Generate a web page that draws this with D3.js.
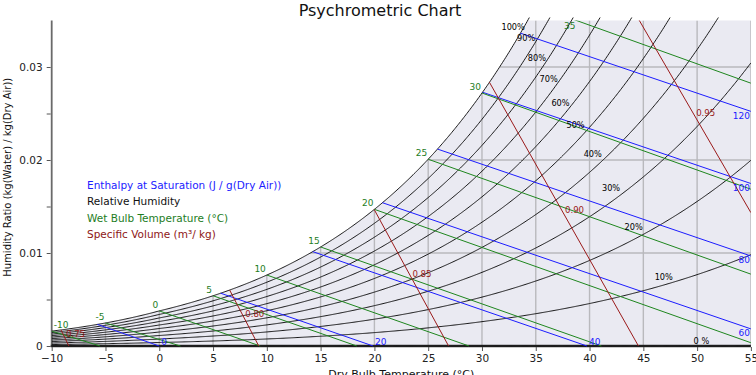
<!DOCTYPE html>
<html><head><meta charset="utf-8">
<script src="https://cdn.jsdelivr.net/npm/d3@7"></script>
<style>
body{margin:0;background:#fff;}
svg{display:block;font-family:"DejaVu Sans",sans-serif;}
</style></head><body>
<svg id="chart" width="756" height="375"></svg>
<script>
// ---------- data ----------
const xTicks = [-10,-5,0,5,10,15,20,25,30,35,40,45,50,55];
const yTicks = [0,0.005,0.01,0.015,0.02,0.025,0.03];
const yTickLabels = ["0","","0.01","","0.02","","0.03"];
const xGrid = [-5,0,5,10,15,20,25,30,35,40,45,50,55];
const yGrid = [0.01,0.02,0.03];
const rhLevels = [1.0,0.9,0.8,0.7,0.6,0.5,0.4,0.3,0.2,0.1,0.0];
const rhLabels = ["100%","90%","80%","70%","60%","50%","40%","30%","20%","10%","0 %"];
const rhLabelT = [32.9,34.1,35.1,36.2,37.3,38.7,40.3,42.0,44.1,46.9,50.4];
const rhLabelW = [0.0343,0.0331,0.0310,0.0287,0.0261,0.0238,0.0206,0.0170,0.0128,0.0074,0.0005];
const wetBulbLevels = [-10,-5,0,5,10,15,20,25,30,35];
const wetBulbLabels = ["-10","-5","0","5","10","15","20","25","30","35"];
const enthalpyLevels = [0,20,40,60,80,100,120];
const volumeLevels = [0.75,0.80,0.85,0.90,0.95];
const volumeLabels = ["0.75","0.80","0.85","0.90","0.95"];
const legendLabels = ["Enthalpy at Saturation (J / g(Dry Air))","Relative Humidity","Wet Bulb Temperature (°C)","Specific Volume (m³/ kg)"];
const legendColors = ["#1c1cff","#111111","#1e7d1e","#8e1616"];
const xDomain = [-10,55];
const yDomain = [0,0.035];

// ---------- psychrometrics (SI, sea level) ----------
const P = 101325;
function psat(T){
  const K = T+273.15;
  if (T >= 0.01) return Math.exp(-5.8002206e3/K + 1.3914993 - 4.8640239e-2*K + 4.1764768e-5*K*K - 1.4452093e-8*K*K*K + 6.5459673*Math.log(K));
  return Math.exp(-5.6745359e3/K + 6.3925247 - 9.677843e-3*K + 6.2215701e-7*K*K + 2.0747825e-9*K*K*K - 9.484024e-13*K*K*K*K + 4.1635019*Math.log(K));
}
const wFromPw = pw => 0.621945*pw/(P-pw);
const wSat = T => wFromPw(psat(T));
const wRH = (T,rh) => wFromPw(rh*psat(T));
const enth = (T,W) => 1.006*T + W*(2501+1.86*T);
const vol = (T,W) => 287.042*(T+273.15)*(1+1.607858*W)/P;
function bisect(f, a, b){
  for (let i=0;i<80;i++){ const m=(a+b)/2; if (f(m) > 0) b=m; else a=m; }
  return (a+b)/2;
}
// straight line from saturation point (T0) to dry-air intercept (Tz), cut at the right edge
function straight(T0, Tz){
  const W0 = wSat(T0);
  const pts = [[T0, W0]];
  if (Tz <= xDomain[1]) pts.push([Tz, 0]);
  else pts.push([xDomain[1], W0*(Tz - xDomain[1])/(Tz - T0)]);
  return pts;
}
// portion of a straight segment inside the plot
function visibleSeg(pts, wMax){
  let [a, b] = pts.map(p => p.slice());
  if (a[1] > wMax){ const t = (a[1]-wMax)/(a[1]-b[1]); a = [a[0] + t*(b[0]-a[0]), wMax]; }
  if (a[0] < xDomain[0]){ const t = (xDomain[0]-a[0])/(b[0]-a[0]); a = [xDomain[0], a[1] + t*(b[1]-a[1])]; }
  return [a, b];
}

// ---------- layout ----------
const svg = d3.select("#chart");
const x = d3.scaleLinear().domain(xDomain).range([51.7, 750.9]);
const y = d3.scaleLinear().domain(yDomain).range([346, 20.5]);
const line = d3.line().x(d=>x(d[0])).y(d=>y(d[1]));

const defs = svg.append("defs");
defs.append("clipPath").attr("id","rhclip").append("rect")
  .attr("x", x(xDomain[0])).attr("y", 17.5)
  .attr("width", x(xDomain[1]) - x(xDomain[0])).attr("height", y(0) - 17.5 + 1);
defs.append("clipPath").attr("id","plotclip").append("rect")
  .attr("x", x(xDomain[0])).attr("y", y(yDomain[1]))
  .attr("width", x(xDomain[1]) - x(xDomain[0])).attr("height", y(0) - y(yDomain[1]) + 1);

// saturation region
const satPts = d3.range(xDomain[0], xDomain[1] + 0.001, 0.1).map(T => [T, Math.min(wSat(T), yDomain[1])]);
const area = d3.area().x(d=>x(d[0])).y0(y(0)).y1(d=>y(d[1]));
defs.append("clipPath").attr("id","satclip").append("path").attr("d", area(satPts));
svg.append("path").attr("d", area(satPts)).attr("fill", "#eaeaf2");

// grid
const grid = svg.append("g").attr("clip-path","url(#satclip)").attr("stroke","#b9b9bd").attr("stroke-width",1.4);
grid.selectAll(".gx").data(xGrid).join("line")
  .attr("x1", d=>x(d)).attr("x2", d=>x(d)).attr("y1", y(0)).attr("y2", y(yDomain[1]));
grid.selectAll(".gy").data(yGrid).join("line")
  .attr("x1", x(xDomain[0])).attr("x2", x(xDomain[1])).attr("y1", d=>y(d)).attr("y2", d=>y(d));

// spines
svg.append("line").attr("x1", x(xDomain[0])).attr("x2", x(xDomain[0])).attr("y1", y(yDomain[1])).attr("y2", y(0)+1)
  .attr("stroke","#6a6a6a").attr("stroke-width",1.8);
svg.append("line").attr("x1", x(xDomain[0])-1).attr("x2", x(xDomain[1])).attr("y1", y(0)).attr("y2", y(0))
  .attr("stroke","#333").attr("stroke-width",2.6);

// relative humidity curves
const rhData = rhLevels.map(rh => d3.range(xDomain[0], xDomain[1] + 0.001, 0.1).map(T => [T, wRH(T, rh)]));
svg.append("g").attr("clip-path","url(#rhclip)").attr("fill","none")
  .selectAll("path").data(rhData).join("path").attr("d", line).attr("stroke","#000").attr("stroke-width",0.9);

const plot = svg.append("g").attr("clip-path","url(#plotclip)").attr("fill","none");

// enthalpy lines
const hData = enthalpyLevels.map(h => straight(bisect(T => enth(T, wSat(T)) - h, -40, 80), h/1.006));
plot.selectAll(".h").data(hData).join("path").attr("d", line).attr("stroke","#1c1cff").attr("stroke-width",1);

// wet bulb lines
const wbData = wetBulbLevels.map(tw => {
  const ws = wSat(tw);
  const Tz = tw >= 0 ? tw + (2501 - 2.326*tw)*ws/1.006 : tw + (2830 - 0.24*tw)*ws/1.006;
  return straight(tw, Tz);
});
plot.selectAll(".wb").data(wbData).join("path").attr("d", line).attr("stroke","#1e861e").attr("stroke-width",1);

// specific volume lines
const vData = volumeLevels.map(v => straight(bisect(T => vol(T, wSat(T)) - v, -40, 80), v*P/287.042 - 273.15));
plot.selectAll(".v").data(vData).join("path").attr("d", line).attr("stroke","#9a1a1a").attr("stroke-width",1);

// ---------- labels ----------
const lab = svg.append("g");
lab.selectAll(".rhl").data(rhLabels).join("text")
  .attr("x", (d,i)=>x(rhLabelT[i])).attr("y", (d,i)=>y(rhLabelW[i]))
  .attr("text-anchor","middle").attr("dominant-baseline","central")
  .attr("font-size",8.2).attr("fill","#000").text(d=>d);

wbData.forEach((pts,i) => {
  const [a] = visibleSeg(pts, yDomain[1]);
  const px = x(a[0]), py = y(a[1]);
  const t = lab.append("text").attr("font-size",9).attr("fill","#1e7d1e").text(wetBulbLabels[i]);
  let anchor = "end", tx = px - 1;
  if (px - 14 < x(xDomain[0])) { anchor = "start"; tx = px + 2; }
  t.attr("x", tx).attr("y", Math.max(py - 3, 29)).attr("text-anchor", anchor);
});

hData.forEach((pts,i) => {
  const b = pts[1];
  const px = x(b[0]), py = y(b[1]);
  const t = lab.append("text").attr("font-size",9).attr("fill","#1c1cff").text(enthalpyLevels[i]);
  if (b[1] <= 1e-9) t.attr("x", px + 2).attr("y", py - 1.5).attr("text-anchor","start");
  else t.attr("x", px - 1).attr("y", py + 7.5).attr("text-anchor","end");
});

vData.forEach((pts,i) => {
  const [a, b] = visibleSeg(pts, yDomain[1]);
  const mx = (x(a[0]) + x(b[0]))/2, my = (y(a[1]) + y(b[1]))/2;
  lab.append("text").attr("x", mx + 1).attr("y", my - 1).attr("font-size",8.6)
    .attr("fill","#9a1a1a").attr("text-anchor","start").text(volumeLabels[i]);
});

// ---------- axes ----------
const fmt = d => d < 0 ? "\u2212" + Math.abs(d) : String(d);
const gx = svg.append("g").attr("transform", `translate(0,${y(0)+1})`)
  .call(d3.axisBottom(x).tickValues(xTicks).tickFormat(fmt).tickSize(4).tickPadding(4));
gx.select(".domain").remove();
gx.selectAll("line").attr("stroke","#555").attr("stroke-width",1);
gx.selectAll("text").attr("font-size",10.5).attr("fill","#222").attr("font-family","DejaVu Sans");

const gy = svg.append("g").attr("transform", `translate(${x(xDomain[0])-1},0)`)
  .call(d3.axisLeft(y).tickValues(yTicks).tickFormat((d,i)=>yTickLabels[i]).tickSize(4).tickPadding(4));
gy.select(".domain").remove();
gy.selectAll("line").attr("stroke","#555").attr("stroke-width",1);
gy.selectAll("text").attr("font-size",10.5).attr("fill","#222").attr("font-family","DejaVu Sans");

svg.append("text").attr("x", 380).attr("y", 15.5).attr("text-anchor","middle")
  .attr("font-size",16).attr("fill","#111").text("Psychrometric Chart");
svg.append("text").attr("x", (x(xDomain[0])+x(xDomain[1]))/2).attr("y", 378).attr("text-anchor","middle")
  .attr("font-size",11).attr("fill","#111").text("Dry Bulb Temperature (°C)");
svg.append("text").attr("transform", `translate(10.5,${(y(0)+y(yDomain[1]))/2 - 6}) rotate(-90)`)
  .attr("text-anchor","middle").attr("font-size",10).attr("fill","#111")
  .text("Humidity Ratio (kg(Water) / kg(Dry Air))");

svg.append("g").selectAll("text").data(legendLabels).join("text")
  .attr("x", 87).attr("y", (d,i)=>189 + i*16.4).attr("font-size",10.5)
  .attr("fill",(d,i)=>legendColors[i]).text(d=>d);
</script>
</body></html>
